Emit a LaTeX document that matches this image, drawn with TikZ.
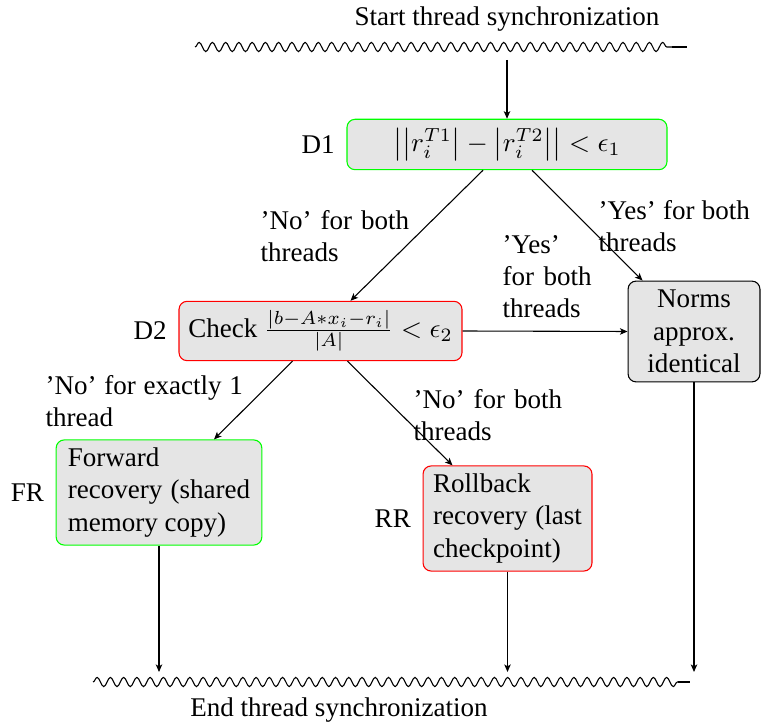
\documentclass[tikz,border=0pt]{standalone}
\usepackage[no-math]{fontspec}
\setmainfont{Liberation Serif}
\usetikzlibrary{decorations.pathmorphing,arrows.meta,calc}
\hyphenpenalty=10000
\exhyphenpenalty=10000
\begin{document}
\begin{tikzpicture}[x=0.37pt,y=-0.37pt,
  box/.style={draw, rounded corners=3pt, fill=gray!20, inner sep=3.33pt},
  okbox/.style={box, draw=green},
  badbox/.style={box, draw=red},
  tag/.style={inner sep=0pt, anchor=north west, align=justify},
  side/.style={label={[label distance=0.8pt]left:#1}},
  arr/.style={-{Stealth[length=2.8pt,width=2.4pt,inset=0.7pt]}},
  wavy/.style={decorate, decoration={snake, segment length=4.9pt, amplitude=1.7pt}}]
\useasboundingbox (0,0) rectangle (770,725);

% synchronisation barriers
\node[inner sep=0pt] (start) at (507,19) {Start thread synchronization};
\coordinate (tw0) at (195,47);
\coordinate (tw1) at (672,47);
\coordinate (tw2) at (687,47);
\draw[wavy] (tw0) -- (tw1);
\draw (tw1) -- (tw2);
\coordinate (entry) at (507,60);

\node[inner sep=0pt] (finish) at (339,710) {End thread synchronization};
\coordinate (bw0) at (93,682);
\coordinate (bw1) at (678,682);
\coordinate (bw2) at (690,682);
\draw[wavy] (bw0) -- (bw1);
\draw (bw1) -- (bw2);
\coordinate (exit) at (0,672);

% decisions and actions
\node[okbox, side=D1, minimum width=118.4pt, minimum height=18.1pt] (d1) at (507,144.5)
  {$\big|\big|r_i^{T1}\big| - \big|r_i^{T2}\big|\big| < \epsilon_1$};
\node[badbox, side=D2, minimum width=104.7pt, minimum height=21.5pt] (d2) at (320.5,331)
  {Check $\frac{|b-A*x_i-r_i|}{|A|} < \epsilon_2$};
\node[box, text width=42pt, align=center, minimum width=48.8pt, minimum height=36.6pt] (norms) at (694,331.5)
  {Norms approx. identical};
\node[okbox, side=FR, text width=67.5pt, inner xsep=4.3pt, inner ysep=2pt, minimum height=38.9pt, align=justify] (fr) at (159,492.5)
  {Forward recovery (shared memory copy)};
\node[badbox, side=RR, text width=55pt, inner xsep=3.75pt, inner ysep=2pt, minimum height=38.9pt, align=justify] (rr) at (507.5,518.5)
  {Rollback recovery (last checkpoint)};

% edge labels
\node[tag, text width=55pt] (l1) at (260,210) {'No' for both threads};
\node[tag, text width=56pt] (l2) at (598,199.5) {'Yes' for both threads};
\node[tag, text width=33pt] (l3) at (502,234.5) {'Yes' for both threads};
\node[tag, text width=73pt] (l4) at (45,374.5) {'No' for exactly 1 thread};
\node[tag, text width=55pt] (l5) at (413,388.5) {'No' for both threads};

% connectors
\draw[arr] (entry) -- (d1.north);
\draw[arr] ($(d1.south)+(-24,0)$) -- ($(d2.north)+(30,0)$);
\draw[arr] ($(d1.south)+(25,0)$) -- ($(norms.north west)+(15,0)$);
\draw[arr] (d2.east) -- (norms.west);
\draw[arr] ($(d2.south)+(-28,0)$) -- ($(fr.north)+(55,0)$);
\draw[arr] ($(d2.south)+(27,0)$) -- ($(rr.north)+(-55,0)$);
\draw[arr] (fr.south) -- (fr.south |- exit);
\draw[arr] (rr.south) -- (rr.south |- exit);
\draw[arr] (norms.south) -- (norms.south |- exit);
\end{tikzpicture}
\end{document}
